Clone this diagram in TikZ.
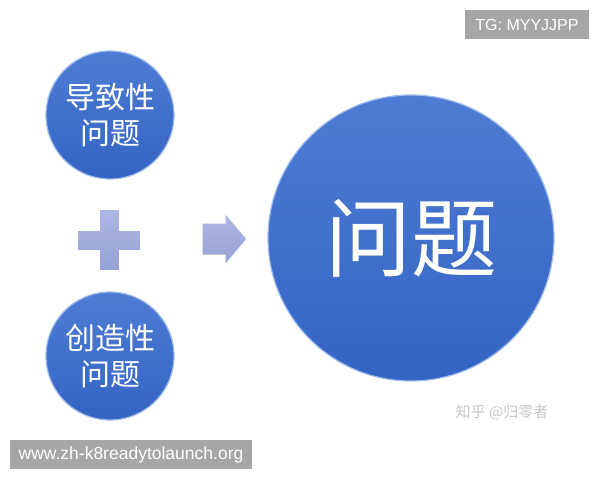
\documentclass[tikz,border=0pt]{standalone}
\usepackage{fontspec}
\setmainfont{Liberation Sans}
\newfontfamily\cjk{Noto Sans CJK SC}
\usetikzlibrary{positioning,shapes,arrows}

\definecolor{ballblue}{RGB}{52,100,196}
\definecolor{balltop}{RGB}{78,124,212}
\definecolor{ballrim}{RGB}{160,188,232}
\definecolor{signblue}{RGB}{172,183,228}
\definecolor{signdark}{RGB}{150,162,212}
\definecolor{tagbg}{RGB}{166,166,166}

\begin{document}
\begin{tikzpicture}[
  x=1pt, y=-1pt,
  ball/.style={circle,inner sep=0pt,top color=balltop,bottom color=ballblue,
    draw=ballrim,line width=1.2pt,text=white,align=center},
  smallball/.style={ball,minimum size=128pt,font=\cjk\fontsize{30}{36}\selectfont},
  bigball/.style={ball,minimum size=286pt,font=\cjk\fontsize{86}{90}\selectfont},
  sign/.style={top color=signblue,bottom color=signdark,draw=white,line width=1pt},
  tag/.style={fill=tagbg,text=white,inner sep=0pt,minimum height=29pt},
]
\useasboundingbox[fill=white] (0,0) rectangle (600,480);

\node[smallball] (cause) at (110,115) {导致性\\问题};
\node[smallball] (create) at (110,356) {创造性\\问题};
\node[bigball] (problem) at (411,238) {问题};

% plus sign
\path[sign] (99,209) -- (119,209) -- (119,230) -- (140,230) -- (140,250)
  -- (119,250) -- (119,270) -- (99,270) -- (99,250) -- (77,250) -- (77,230)
  -- (99,230) -- cycle;

% arrow
\path[sign] (202,223) -- (225,223) -- (225,213) -- (247,239) -- (225,265)
  -- (225,255) -- (202,255) -- cycle;

\node[tag,minimum width=124pt,font=\fontsize{16}{18}\selectfont] (tg) at (527,24.5) {TG: MYYJJPP};
\node[tag,minimum width=242pt,font=\fontsize{17.5}{20}\selectfont] (site) at (131,454.5) {www.zh-k8readytolaunch.org};
\node[text=black!22,font=\cjk\fontsize{15}{17}\selectfont] (zhihu) at (502,412) {知乎 @归零者};
\end{tikzpicture}
\end{document}
